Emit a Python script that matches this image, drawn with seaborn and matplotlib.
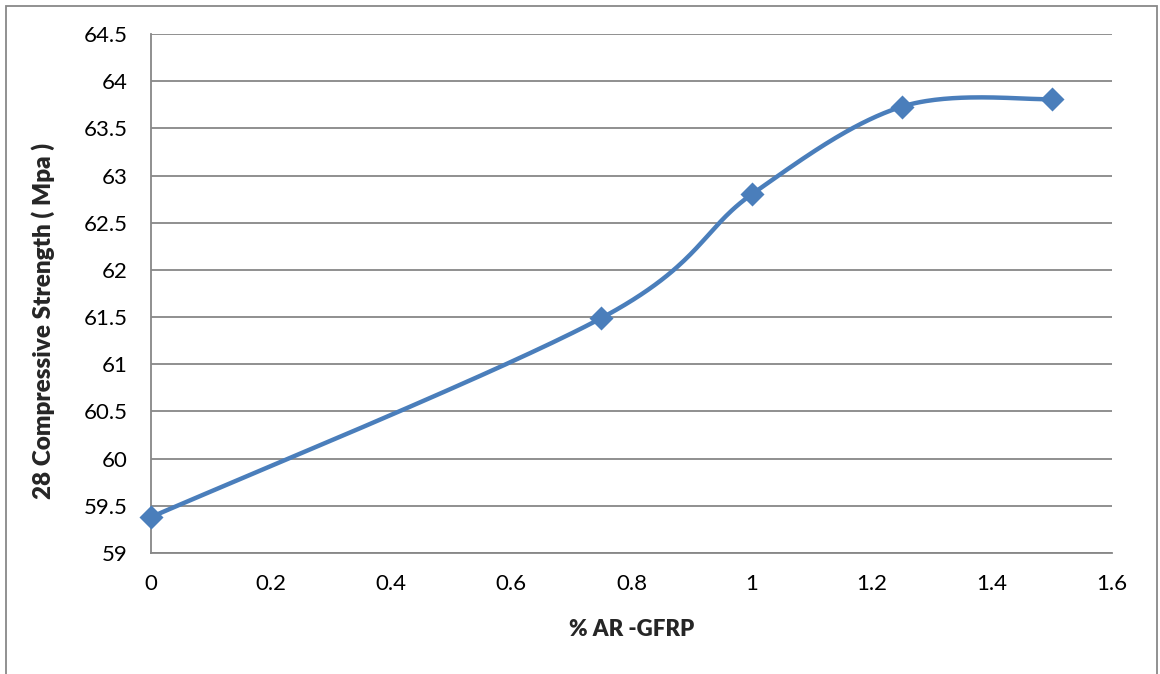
import numpy as np
import pandas as pd
import matplotlib
matplotlib.use("Agg")
import matplotlib.pyplot as plt
import seaborn as sns
from matplotlib.patches import Rectangle

# Data
fiber_pct = [0.0, 0.75, 1.0, 1.25, 1.5]
strength = [59.38, 61.49, 62.80, 63.73, 63.81]
x_ticks = [0, 0.2, 0.4, 0.6, 0.8, 1, 1.2, 1.4, 1.6]
x_tick_labels = ["0", "0.2", "0.4", "0.6", "0.8", "1", "1.2", "1.4", "1.6"]
y_ticks = [59, 59.5, 60, 60.5, 61, 61.5, 62, 62.5, 63, 63.5, 64, 64.5]
y_tick_labels = ["59", "59.5", "60", "60.5", "61", "61.5", "62", "62.5", "63", "63.5", "64", "64.5"]
x_label = "% AR -GFRP"
y_label = "28 Compressive Strength ( Mpa )"

sns.set_theme(style="white")
plt.rcParams['font.family'] = ['Lato', 'DejaVu Sans']

BLUE = "#4A7EBB"
GRID = "#878787"


def excel_smooth(xs, ys, n=60):
    """Excel-style smoothed line (cubic Bezier with 1/6 tangents)."""
    p = np.column_stack([xs, ys]).astype(float)
    pts = [p[0]] + list(p) + [p[-1]]
    out = []
    t = np.linspace(0, 1, n)[:, None]
    for i in range(1, len(pts) - 2):
        p0, p1, p2, p3 = pts[i - 1], pts[i], pts[i + 1], pts[i + 2]
        c1 = p1 + (p2 - p0) / 6.0
        c2 = p2 - (p3 - p1) / 6.0
        seg = ((1 - t) ** 3) * p1 + 3 * ((1 - t) ** 2) * t * c1 + 3 * (1 - t) * t ** 2 * c2 + t ** 3 * p2
        out.append(seg if i == 1 else seg[1:])
    arr = np.vstack(out)
    return arr[:, 0], arr[:, 1]


fig = plt.figure(figsize=(11.6, 6.74), dpi=100)
ax = fig.add_axes([151 / 1160, 1 - 553 / 674, (1112 - 151) / 1160, (553 - 34) / 674])

sx, sy = excel_smooth(fiber_pct, strength)
curve = pd.DataFrame({"x": sx, "y": sy})
sns.lineplot(data=curve, x="x", y="y", sort=False, color=BLUE, linewidth=3.2, ax=ax, zorder=3)
pts = pd.DataFrame({"x": fiber_pct, "y": strength})
sns.scatterplot(data=pts, x="x", y="y", marker="D", s=150, color=BLUE, edgecolor=BLUE,
                linewidth=0, ax=ax, zorder=4, clip_on=False)

ax.set_xlim(0, 1.6)
ax.set_ylim(59, 64.5)
ax.set_xticks(x_ticks)
ax.set_xticklabels(x_tick_labels)
ax.set_yticks(y_ticks)
ax.set_yticklabels(y_tick_labels)
ax.tick_params(axis="both", labelsize=16, colors="black", length=0)
ax.tick_params(axis="y", pad=17)
ax.tick_params(axis="x", pad=15)
ax.yaxis.grid(True, color=GRID, linewidth=1.3)
ax.xaxis.grid(False)
ax.set_axisbelow(True)
for side in ["top", "right"]:
    ax.spines[side].set_visible(False)
for side in ["left", "bottom"]:
    ax.spines[side].set_color(GRID)
    ax.spines[side].set_linewidth(1.3)

ax.set_xlabel(x_label, fontsize=16, fontweight="heavy", labelpad=18)
ax.set_ylabel(y_label, fontsize=17.5, fontweight="heavy")
ax.yaxis.set_label_coords(-0.1, 0.447)

fig.patches.append(Rectangle((6 / 1160, -0.02), 1151 / 1160, 1 - 6 / 674 + 0.02,
                             transform=fig.transFigure, fill=False, edgecolor="#888888",
                             linewidth=1.3))

fig.savefig("out.png", dpi=100)
